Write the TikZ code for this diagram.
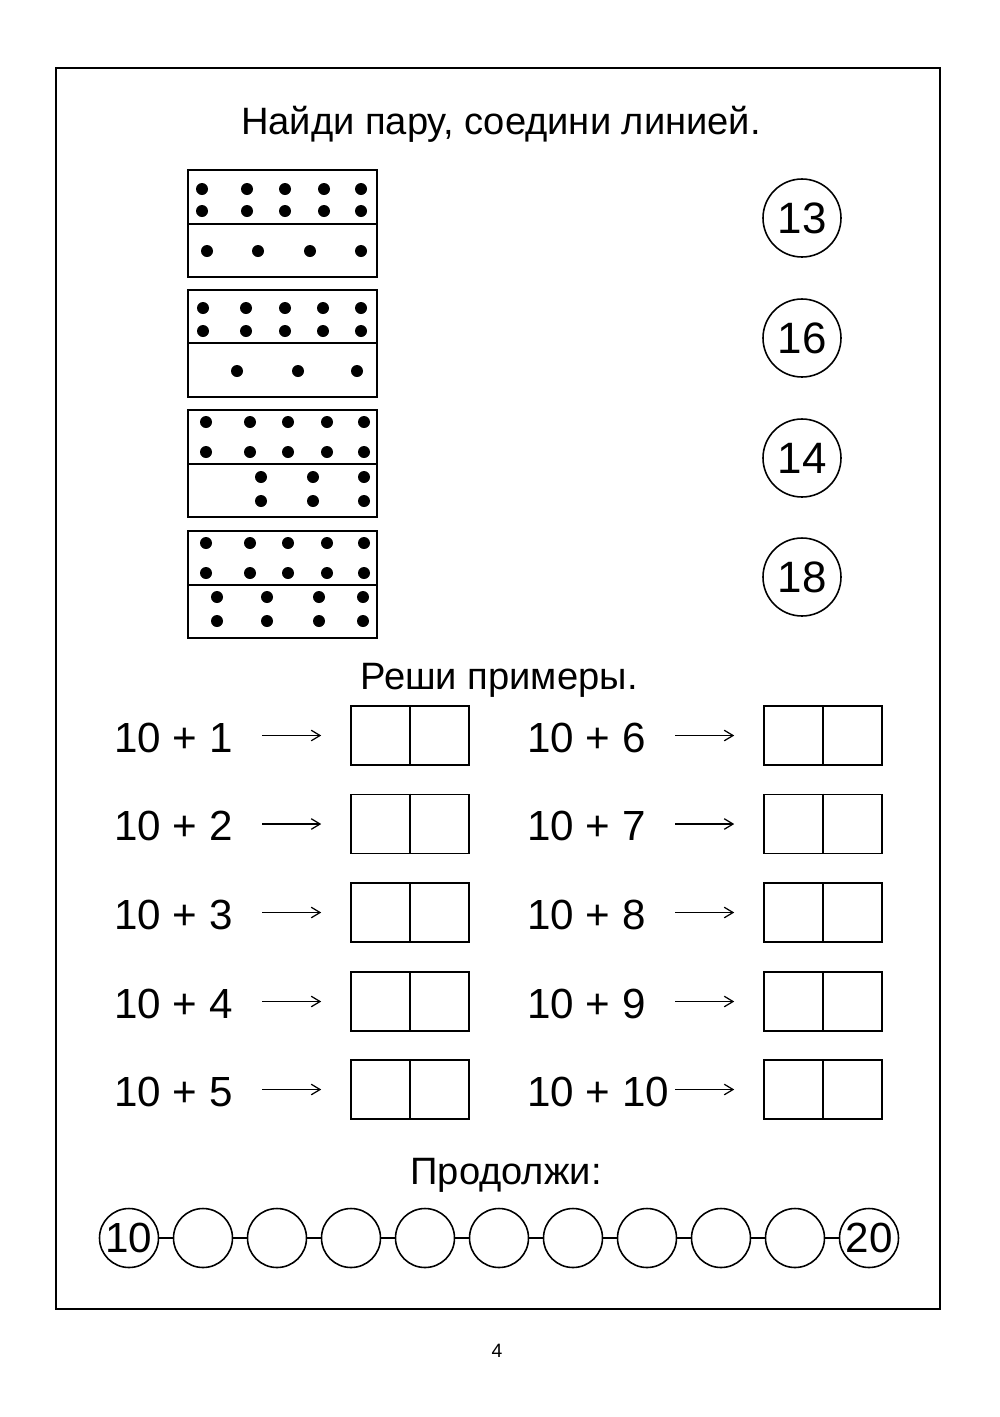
\documentclass[tikz,border=0pt]{standalone}
\usepackage{fontspec}
\setmainfont{Liberation Sans}
\usetikzlibrary{arrows,arrows.meta,positioning}

\tikzset{
  numcirc/.style={draw, circle, line width=0.9pt, minimum size=1.56cm, inner sep=0pt, font=\fontsize{25}{25}\selectfont},
  chaincirc/.style={draw, circle, line width=0.9pt, minimum size=1.18cm, inner sep=0pt, font=\fontsize{24}{24}\selectfont},
  ansbox/.style={draw, rectangle, line width=0.9pt, minimum width=2.36cm, minimum height=1.18cm, inner sep=0pt},
  sumtext/.style={anchor=base west, inner sep=0pt, font=\fontsize{24}{24}\selectfont},
  headtext/.style={anchor=base, inner sep=0pt, font=\fontsize{21.7}{26}\selectfont},
  arr/.style={-{Straight Barb[length=5pt, width=6pt]}, line width=0.7pt, shorten >=0.58cm}
}

\begin{document}
\begin{tikzpicture}[x=0.02cm, y=0.02cm]
    \useasboundingbox (0,0) rectangle (1000,-1417);
    % frame
    \draw [line width=1.3pt] (56,-68) rectangle (940,-1309);
    \node [headtext] (title) at (501,-134) {Найди пару, соедини линией.};
    % dominoes
    \draw [line width=1.1pt] (188,-170) rectangle (377,-224) (188,-224) rectangle (377,-277);
    \draw [line width=1.1pt] (188,-290) rectangle (377,-343) (188,-343) rectangle (377,-397);
    \draw [line width=1.1pt] (188,-410) rectangle (377,-464) (188,-464) rectangle (377,-517);
    \draw [line width=1.1pt] (188,-531) rectangle (377,-585) (188,-585) rectangle (377,-638);
    \foreach \x in {202,247,285,324,361} {\fill (\x,-189) circle (6); \fill (\x,-211) circle (6);}
    \foreach \x in {207,258,310,361} \fill (\x,-251) circle (6);
    \foreach \x in {203,246,285,323,361} {\fill (\x,-308) circle (6); \fill (\x,-331) circle (6);}
    \foreach \x in {237,298,357} \fill (\x,-371) circle (6);
    \foreach \x in {206,250,288,327,364} {\fill (\x,-422) circle (6); \fill (\x,-452) circle (6);}
    \foreach \x in {261,313,364} {\fill (\x,-477) circle (6); \fill (\x,-501) circle (6);}
    \foreach \x in {206,250,288,327,364} {\fill (\x,-543) circle (6); \fill (\x,-573) circle (6);}
    \foreach \x in {217,267,319,363} {\fill (\x,-597) circle (6); \fill (\x,-621) circle (6);}
    % numbers to match
    \node [numcirc] (n13) at (802,-218) {13};
    \node [numcirc] (n16) at (802,-338) {16};
    \node [numcirc] (n14) at (802,-458) {14};
    \node [numcirc] (n18) at (802,-577) {18};
    % sums
    \node [headtext] (sums) at (499,-689) {Реши примеры.};
    \foreach \i/\j/\y in {1/6/735.5, 2/7/824, 3/8/912.5, 4/9/1001.5, 5/10/1089.5} {
        \node [sumtext] (s\i) at (114,-\y-16.5) {10 + \i};
        \node [ansbox] (b\i) at (410,-\y) {};
        \draw [line width=0.9pt] (b\i.north) -- (b\i.south);
        \coordinate (a\i) at (262,-\y);
        \draw [arr] (a\i) -- (b\i);
        \node [sumtext] (s\j) at (527,-\y-16.5) {10 + \j};
        \node [ansbox] (b\j) at (823,-\y) {};
        \draw [line width=0.9pt] (b\j.north) -- (b\j.south);
        \coordinate (a\j) at (675,-\y);
        \draw [arr] (a\j) -- (b\j);
    }
    % chain
    \node [headtext] (cont) at (506,-1184) {Продолжи:};
    \node [chaincirc] (c0) at (129,-1238) {10};
    \foreach \i in {1,...,9} \node [chaincirc] (c\i) at (129+74*\i,-1238) {};
    \node [chaincirc] (c10) at (869,-1238) {20};
    \foreach \i [count=\j] in {0,...,9} \draw [line width=0.9pt] (c\i) -- (c\j);
    \node [anchor=base, font=\fontsize{11}{11}\selectfont] (page) at (497,-1357) {4};
\end{tikzpicture}
\end{document}
